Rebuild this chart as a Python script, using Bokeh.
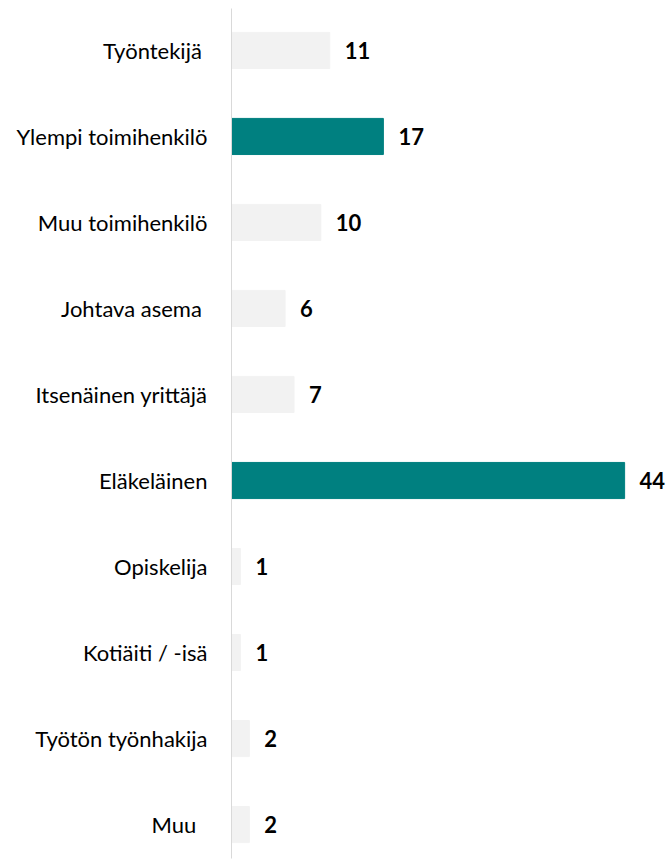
from bokeh.plotting import figure
from bokeh.models import Range1d, ColumnDataSource, FixedTicker
from bokeh.core.properties import value
from bokeh.embed import file_html
from bokeh.resources import INLINE

categories = ["Työntekijä\u00a0", "Ylempi toimihenkilö", "Muu toimihenkilö", "Johtava asema\u00a0",
              "Itsenäinen yrittäjä", "Eläkeläinen", "Opiskelija", "Kotiäiti / -isä",
              "Työtön työnhakija", "Muu\u00a0\u00a0"]
values = [11, 17, 10, 6, 7, 44, 1, 1, 2, 2]
highlight = [False, True, False, False, False, True, False, False, False, False]

TEAL = "#008080"
GRAY = "#f2f2f2"

ypos = list(range(len(categories)))
colors = [TEAL if h else GRAY for h in highlight]
src = ColumnDataSource(dict(y=ypos, v=values, c=colors, lbl=[str(v) for v in values]))

p = figure(width=667, height=860, output_backend="svg", toolbar_location=None,
           x_range=Range1d(0, 48.8), y_range=Range1d(9.395, -0.488),
           min_border_left=231, min_border_right=0, min_border_top=8, min_border_bottom=2)

p.hbar(y="y", left=0, right="v", height=0.42, color="c", source=src)
p.text(x="v", y="y", text="lbl", source=src, x_offset=15, text_align="left",
       text_baseline="middle", text_font=value("Lato"), text_font_style="bold",
       text_font_size="22px", text_color="#000000")

p.xaxis.visible = False
p.yaxis.ticker = FixedTicker(ticks=ypos)
p.yaxis.major_label_overrides = {i: c for i, c in enumerate(categories)}
p.yaxis.major_tick_line_color = None
p.yaxis.minor_tick_line_color = None
p.yaxis.axis_line_color = "#d9d9d9"
p.yaxis.axis_line_width = 1
p.yaxis.major_label_text_font = "Lato"
p.yaxis.major_label_text_font_size = "22px"
p.yaxis.major_label_text_color = "#000000"
p.yaxis.major_label_standoff = 18
p.xgrid.visible = False
p.ygrid.visible = False
p.outline_line_color = None

open("out.html", "w").write(file_html(p, INLINE))
